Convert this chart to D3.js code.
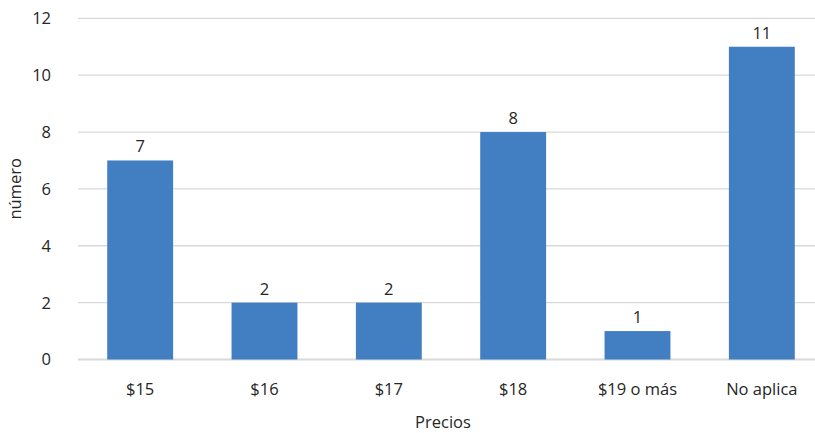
<!DOCTYPE html>
<html>
<head>
<meta charset="utf-8">
<script src="https://cdn.jsdelivr.net/npm/d3@7"></script>
<style>
  html, body { margin: 0; padding: 0; background: #fff; }
  svg text { font-family: "Open Sans", "Noto Sans", sans-serif; fill: #262626; }
</style>
</head>
<body>
<svg id="chart" width="815" height="433"></svg>
<script>
// Precio dispuesto a pagar: número de respuestas por categoría
const categories = ["$15", "$16", "$17", "$18", "$19 o más", "No aplica"];
const counts = [7, 2, 2, 8, 1, 11];
const yTicks = [0, 2, 4, 6, 8, 10, 12];
const xTitle = "Precios";
const yTitle = "número";

const svg = d3.select("#chart");
const plot = { left: 78, right: 824, top: 18.3, bottom: 359.5 };
const fontSize = 16.5;

const x = d3.scaleBand()
  .domain(categories)
  .range([plot.left, plot.right])
  .paddingInner(0.47)
  .paddingOuter(0.235);

const y = d3.scaleLinear()
  .domain([0, 12])
  .range([plot.bottom, plot.top]);

// horizontal gridlines
svg.append("g")
  .selectAll("line")
  .data(yTicks)
  .join("line")
  .attr("x1", plot.left)
  .attr("x2", plot.right)
  .attr("y1", d => y(d))
  .attr("y2", d => y(d))
  .attr("stroke", "#d9d9d9")
  .attr("stroke-width", d => d === 0 ? 2 : 1.3);

// y tick labels
svg.append("g")
  .selectAll("text")
  .data(yTicks)
  .join("text")
  .attr("x", 51)
  .attr("y", d => y(d))
  .attr("dy", "0.36em")
  .attr("text-anchor", "end")
  .attr("font-size", fontSize)
  .text(d => d);

// bars
svg.append("g")
  .selectAll("rect")
  .data(counts)
  .join("rect")
  .attr("x", (d, i) => x(categories[i]))
  .attr("width", x.bandwidth())
  .attr("y", d => y(d))
  .attr("height", d => y(0) - y(d))
  .attr("fill", "#427fc2");

// value labels
svg.append("g")
  .selectAll("text")
  .data(counts)
  .join("text")
  .attr("x", (d, i) => x(categories[i]) + x.bandwidth() / 2)
  .attr("y", d => y(d) - 8)
  .attr("text-anchor", "middle")
  .attr("font-size", fontSize)
  .text(d => d);

// category labels
svg.append("g")
  .selectAll("text")
  .data(categories)
  .join("text")
  .attr("x", d => x(d) + x.bandwidth() / 2)
  .attr("y", 395)
  .attr("text-anchor", "middle")
  .attr("font-size", fontSize)
  .text(d => d);

// axis titles
svg.append("text")
  .attr("x", (plot.left + 808) / 2)
  .attr("y", 428)
  .attr("text-anchor", "middle")
  .attr("font-size", fontSize)
  .text(xTitle);

svg.append("text")
  .attr("transform", `translate(21, ${(plot.top + plot.bottom) / 2}) rotate(-90)`)
  .attr("text-anchor", "middle")
  .attr("font-size", fontSize)
  .text(yTitle);
</script>
</body>
</html>
